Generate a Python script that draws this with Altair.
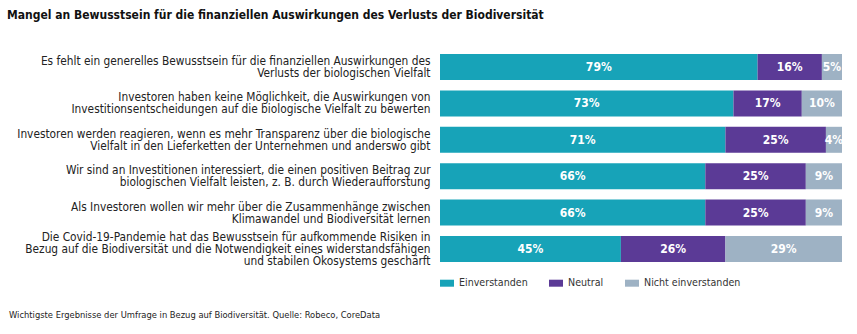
import altair as alt
import pandas as pd

title_text = "Mangel an Bewusstsein für die finanziellen Auswirkungen des Verlusts der Biodiversität"
footer_text = "Wichtigste Ergebnisse der Umfrage in Bezug auf Biodiversität. Quelle: Robeco, CoreData"

statements = [
    "Es fehlt ein generelles Bewusstsein für die finanziellen Auswirkungen des\nVerlusts der biologischen Vielfalt",
    "Investoren haben keine Möglichkeit, die Auswirkungen von\nInvestitionsentscheidungen auf die biologische Vielfalt zu bewerten",
    "Investoren werden reagieren, wenn es mehr Transparenz über die biologische\nVielfalt in den Lieferketten der Unternehmen und anderswo gibt",
    "Wir sind an Investitionen interessiert, die einen positiven Beitrag zur\nbiologischen Vielfalt leisten, z. B. durch Wiederaufforstung",
    "Als Investoren wollen wir mehr über die Zusammenhänge zwischen\nKlimawandel und Biodiversität lernen",
    "Die Covid-19-Pandemie hat das Bewusstsein für aufkommende Risiken in\nBezug auf die Biodiversität und die Notwendigkeit eines widerstandsfähigen\nund stabilen Ökosystems geschärft",
]
categories = ["Einverstanden", "Neutral", "Nicht einverstanden"]
einverstanden = [79, 73, 71, 66, 66, 45]
neutral = [16, 17, 25, 25, 25, 26]
nicht = [5, 10, 4, 9, 9, 29]
colors = ["#17A3B8", "#5B3A96", "#9EB2C4"]

rows = []
for i, s in enumerate(statements):
    for j, (cat, vals) in enumerate(zip(categories, [einverstanden, neutral, nicht])):
        rows.append({"statement": s, "category": cat, "value": vals[i], "order": j})
df = pd.DataFrame(rows)

FONT = "DejaVu Sans Condensed, sans-serif"
LH = 12

base = alt.Chart(df).transform_stack(
    stack="value", groupby=["statement"], as_=["start", "end"],
    sort=[alt.SortField("order", order="ascending")],
).transform_calculate(mid="(datum.start + datum.end) / 2", label="datum.value + '%'")

y_enc = alt.Y(
    "statement:N", sort=statements, title=None,
    scale=alt.Scale(paddingInner=0.2857, paddingOuter=0),
    axis=alt.Axis(
        domain=False, ticks=False, labelPadding=10, labelLimit=0,
        labelExpr="split(datum.label, '\\n')", labelFont=FONT, labelFontSize=11.8,
        labelColor="#222222", labelLineHeight=LH, labelAlign="right",
        labelOffset={
            "condition": {"test": "length(split(datum.value, '\\n')) > 2", "value": -LH},
            "value": -LH / 2,
        },
    ),
)

bars = base.mark_bar().encode(
    x=alt.X("start:Q", scale=alt.Scale(domain=[0, 100], nice=False), axis=None),
    x2="end:Q",
    y=y_enc,
    color=alt.Color(
        "category:N",
        scale=alt.Scale(domain=categories, range=colors),
        legend=alt.Legend(
            title=None, orient="none", legendX=0, legendY=222, direction="horizontal",
            symbolType="M-1,-0.5H1V0.5H-1Z", symbolSize=196, symbolStrokeWidth=0,
            labelFont=FONT, labelFontSize=10.6, labelColor="#333333", labelOffset=5,
            columnPadding=21, padding=0,
        ),
    ),
)

texts = base.mark_text(color="white", fontWeight="bold", font=FONT, fontSize=12).encode(
    x=alt.X("mid:Q"),
    y=alt.Y("statement:N", sort=statements),
    text="label:N",
)

footer = alt.Chart(pd.DataFrame({"t": [footer_text]})).mark_text(
    align="left", baseline="middle", font=FONT, fontSize=9.3, color="#222222"
).encode(x=alt.value(-431), y=alt.value(261), text="t:N")

chart = alt.layer(bars, texts, footer).properties(
    width=402, height=208,
    padding={"left": 440, "top": 54, "right": 15, "bottom": 72},
    autosize=alt.AutoSizeParams(type="none"),
    title=alt.TitleParams(
        title_text, anchor="start", frame="group", dx=-433, dy=-28,
        font=FONT, fontSize=12, fontWeight="bold", color="#111111",
    ),
).configure_view(stroke=None)

chart.save("out.html", embed_options={"renderer": "svg", "actions": False})
